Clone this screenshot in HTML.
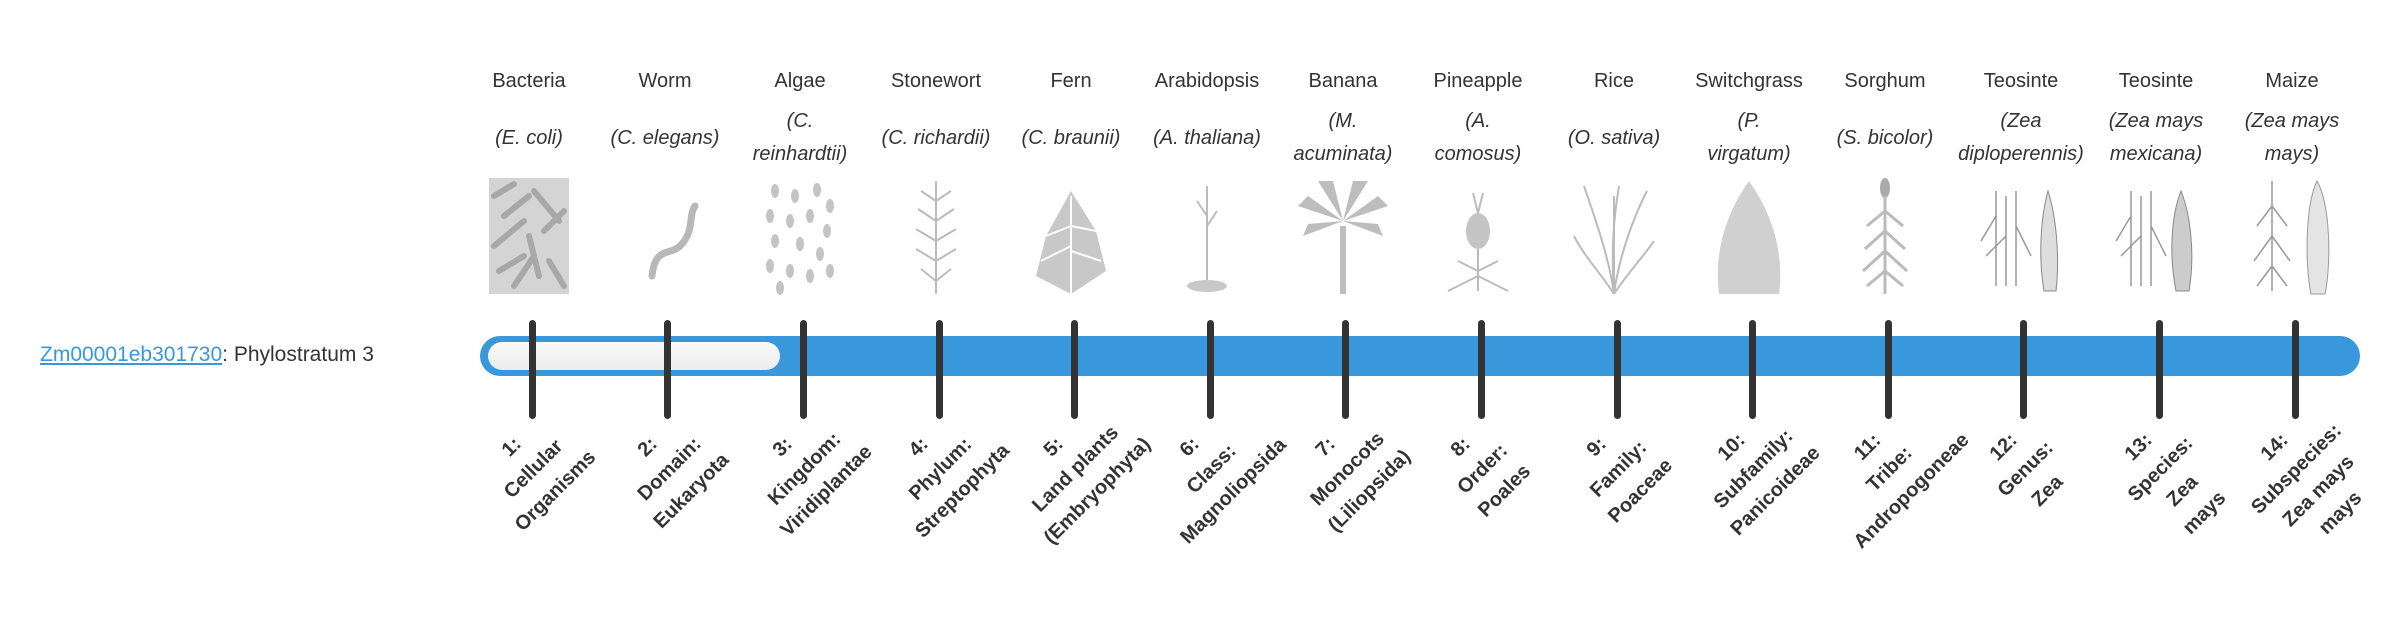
<!DOCTYPE html>
<html><head><meta charset="utf-8">
<style>
body{margin:0;width:2400px;height:580px;background:#fff;position:relative;overflow:hidden;font-family:"Liberation Sans","DejaVu Sans",sans-serif;color:#333}
.nm{position:absolute;top:64px;width:170px;text-align:center;font-size:20px;line-height:34px;white-space:nowrap}
.sp{position:absolute;top:105px;width:170px;height:66px;display:flex;align-items:center;justify-content:center;text-align:center;font-size:20px;line-height:33px;font-style:italic;white-space:nowrap}
.im{position:absolute;top:176px;width:110px;height:120px}
.tk{position:absolute;top:320px;width:7px;height:99px;background:#333;border-radius:4px}
.lb{position:absolute;top:432px;width:300px;text-align:center;font-weight:bold;font-size:20px;line-height:31px;white-space:nowrap;transform-origin:150px 15.5px;transform:rotate(-45deg)}
</style></head><body>
<div style="position:absolute;left:40px;top:340px;font-size:21px;line-height:30px;white-space:nowrap"><span style="color:#3898db;text-decoration:underline">Zm00001eb301730</span>: Phylostratum 3</div>
<div style="position:absolute;left:480px;top:336px;width:1880px;height:40px;border-radius:20px;background:#3898db"></div>
<div style="position:absolute;left:488px;top:342px;width:292px;height:28px;border-radius:14px;background:linear-gradient(#fafafa,#ececec)"></div>

<div class="nm" style="left:444px">Bacteria</div>
<div class="nm" style="left:580px">Worm</div>
<div class="nm" style="left:715px">Algae</div>
<div class="nm" style="left:851px">Stonewort</div>
<div class="nm" style="left:986px">Fern</div>
<div class="nm" style="left:1122px">Arabidopsis</div>
<div class="nm" style="left:1258px">Banana</div>
<div class="nm" style="left:1393px">Pineapple</div>
<div class="nm" style="left:1529px">Rice</div>
<div class="nm" style="left:1664px">Switchgrass</div>
<div class="nm" style="left:1800px">Sorghum</div>
<div class="nm" style="left:1936px">Teosinte</div>
<div class="nm" style="left:2071px">Teosinte</div>
<div class="nm" style="left:2207px">Maize</div>

<div class="sp" style="left:444px">(E. coli)</div>
<div class="sp" style="left:580px">(C. elegans)</div>
<div class="sp" style="left:715px">(C.<br>reinhardtii)</div>
<div class="sp" style="left:851px">(C. richardii)</div>
<div class="sp" style="left:986px">(C. braunii)</div>
<div class="sp" style="left:1122px">(A. thaliana)</div>
<div class="sp" style="left:1258px">(M.<br>acuminata)</div>
<div class="sp" style="left:1393px">(A.<br>comosus)</div>
<div class="sp" style="left:1529px">(O. sativa)</div>
<div class="sp" style="left:1664px">(P.<br>virgatum)</div>
<div class="sp" style="left:1800px">(S. bicolor)</div>
<div class="sp" style="left:1936px">(Zea<br>diploperennis)</div>
<div class="sp" style="left:2071px">(Zea mays<br>mexicana)</div>
<div class="sp" style="left:2207px">(Zea mays<br>mays)</div>

<!-- images -->
<svg class="im" style="left:474px" viewBox="0 0 110 120"><rect x="15" y="2" width="80" height="116" fill="#d4d4d4"/><g stroke="#a8a8a8" stroke-width="6" stroke-linecap="round"><path d="M20 20l20 -12M30 40l25 -20M60 15l25 30M20 70l30 -25M55 60l10 40M70 55l20 -20M25 95l25 -15M75 85l15 25M40 110l20 -30"/></g></svg>
<svg class="im" style="left:610px" viewBox="0 0 110 120"><path d="M42 100 C45 70 60 80 70 70 C85 55 78 40 85 30" fill="none" stroke="#b8b8b8" stroke-width="7" stroke-linecap="round"/></svg>
<svg class="im" style="left:745px" viewBox="0 0 110 120"><g fill="#c4c4c4"><ellipse cx="30" cy="15" rx="4" ry="7"/><ellipse cx="50" cy="20" rx="4" ry="7"/><ellipse cx="72" cy="14" rx="4" ry="7"/><ellipse cx="85" cy="30" rx="4" ry="7"/><ellipse cx="25" cy="40" rx="4" ry="7"/><ellipse cx="45" cy="45" rx="4" ry="7"/><ellipse cx="65" cy="40" rx="4" ry="7"/><ellipse cx="82" cy="55" rx="4" ry="7"/><ellipse cx="30" cy="65" rx="4" ry="7"/><ellipse cx="55" cy="68" rx="4" ry="7"/><ellipse cx="75" cy="78" rx="4" ry="7"/><ellipse cx="25" cy="90" rx="4" ry="7"/><ellipse cx="45" cy="95" rx="4" ry="7"/><ellipse cx="65" cy="100" rx="4" ry="7"/><ellipse cx="85" cy="95" rx="4" ry="7"/><ellipse cx="35" cy="112" rx="4" ry="7"/></g></svg>
<svg class="im" style="left:881px" viewBox="0 0 110 120"><g stroke="#bbb" stroke-width="2" fill="none"><path d="M55 5V118M55 25l-15 -10M55 25l15 -10M55 45l-18 -12M55 45l18 -12M55 65l-20 -12M55 65l20 -12M55 85l-20 -12M55 85l20 -12M55 105l-15 -12M55 105l15 -12"/></g></svg>
<svg class="im" style="left:1016px" viewBox="0 0 110 120"><g fill="#c8c8c8"><path d="M55 15 L30 60 L20 100 L55 118 L90 95 L80 55 Z"/></g><g stroke="#fff" stroke-width="2"><path d="M55 118V20M55 50l-25 10M55 70l-30 15M55 50l25 5M55 75l30 10"/></g></svg>
<svg class="im" style="left:1152px" viewBox="0 0 110 120"><g stroke="#bbb" stroke-width="2" fill="none"><path d="M55 110V10M55 40l-10 -15M55 50l10 -15"/></g><ellipse cx="55" cy="110" rx="20" ry="6" fill="#c8c8c8"/></svg>
<svg class="im" style="left:1288px" viewBox="0 0 110 120"><g fill="#bdbdbd"><path d="M52 50h6v68h-6z"/><path d="M55 45 L10 30 L20 20 Z M55 45 L100 30 L90 20 Z M55 45 L30 5 L45 5 Z M55 45 L80 5 L65 5 Z M55 45 L15 60 L20 48 Z M55 45 L95 60 L90 48 Z"/></g></svg>
<svg class="im" style="left:1423px" viewBox="0 0 110 120"><ellipse cx="55" cy="55" rx="12" ry="18" fill="#c4c4c4"/><g stroke="#bbb" stroke-width="2"><path d="M55 37l-5 -20M55 37l5 -20M55 73V115M55 100l-30 15M55 100l30 15M55 95l-20 -10M55 95l20 -10"/></g></svg>
<svg class="im" style="left:1559px" viewBox="0 0 110 120"><g stroke="#bbb" stroke-width="2" fill="none"><path d="M55 118 C50 80 35 40 25 10M55 118 C60 80 75 40 88 15M55 118 C52 70 55 40 60 10M55 118 C40 95 25 80 15 60M55 118 C70 95 85 80 95 65M55 118V20"/></g></svg>
<svg class="im" style="left:1694px" viewBox="0 0 110 120"><path d="M55 5 C30 40 20 80 25 118 H85 C90 80 80 40 55 5Z" fill="#d0d0d0"/></svg>
<svg class="im" style="left:1830px" viewBox="0 0 110 120"><ellipse cx="55" cy="12" rx="5" ry="10" fill="#aaa"/><g stroke="#bbb" stroke-width="3" fill="none"><path d="M55 20V118M55 35l-18 15M55 35l18 15M55 55l-20 18M55 55l20 18M55 75l-22 20M55 75l22 20M55 95l-18 15M55 95l18 15"/></g></svg>
<svg class="im" style="left:1966px" viewBox="0 0 110 120"><g stroke="#999" stroke-width="1.5" fill="none"><path d="M30 110V15M40 110V20M50 110V15M30 40l-15 25M50 50l15 30M40 60l-20 20"/></g><path d="M82 15 C75 40 72 80 78 115 H90 C94 80 90 40 82 15Z" fill="#ddd" stroke="#888"/></svg>
<svg class="im" style="left:2101px" viewBox="0 0 110 120"><g stroke="#999" stroke-width="1.5" fill="none"><path d="M30 110V15M40 110V20M50 110V15M30 40l-15 25M50 50l15 30M40 60l-20 20"/></g><path d="M80 15 C70 40 68 80 75 115 H88 C94 80 90 40 80 15Z" fill="#ccc" stroke="#888"/></svg>
<svg class="im" style="left:2237px" viewBox="0 0 110 120"><g stroke="#999" stroke-width="1.5" fill="none"><path d="M35 115V5M35 30l-15 20M35 30l15 20M35 60l-18 25M35 60l18 25M35 90l-15 20M35 90l15 20"/></g><path d="M80 5 C68 30 68 90 74 118 H88 C94 90 94 30 80 5Z" fill="#e4e4e4" stroke="#999"/></svg>

<!-- ticks -->
<div class="tk" style="left:529px"></div>
<div class="tk" style="left:664px"></div>
<div class="tk" style="left:800px"></div>
<div class="tk" style="left:936px"></div>
<div class="tk" style="left:1071px"></div>
<div class="tk" style="left:1207px"></div>
<div class="tk" style="left:1342px"></div>
<div class="tk" style="left:1478px"></div>
<div class="tk" style="left:1614px"></div>
<div class="tk" style="left:1749px"></div>
<div class="tk" style="left:1885px"></div>
<div class="tk" style="left:2020px"></div>
<div class="tk" style="left:2156px"></div>
<div class="tk" style="left:2292px"></div>

<!-- rotated labels: first-line centre at tick-20, y 448 -->
<div class="lb" style="left:362px">1:<br>Cellular<br>Organisms</div>
<div class="lb" style="left:498px">2:<br>Domain:<br>Eukaryota</div>
<div class="lb" style="left:633px">3:<br>Kingdom:<br>Viridiplantae</div>
<div class="lb" style="left:769px">4:<br>Phylum:<br>Streptophyta</div>
<div class="lb" style="left:904px">5:<br>Land plants<br>(Embryophyta)</div>
<div class="lb" style="left:1040px">6:<br>Class:<br>Magnoliopsida</div>
<div class="lb" style="left:1176px">7:<br>Monocots<br>(Liliopsida)</div>
<div class="lb" style="left:1311px">8:<br>Order:<br>Poales</div>
<div class="lb" style="left:1447px">9:<br>Family:<br>Poaceae</div>
<div class="lb" style="left:1582px">10:<br>Subfamily:<br>Panicoideae</div>
<div class="lb" style="left:1718px">11:<br>Tribe:<br>Andropogoneae</div>
<div class="lb" style="left:1854px">12:<br>Genus:<br>Zea</div>
<div class="lb" style="left:1989px">13:<br>Species:<br>Zea<br>mays</div>
<div class="lb" style="left:2125px">14:<br>Subspecies:<br>Zea mays<br>mays</div>
</body></html>
